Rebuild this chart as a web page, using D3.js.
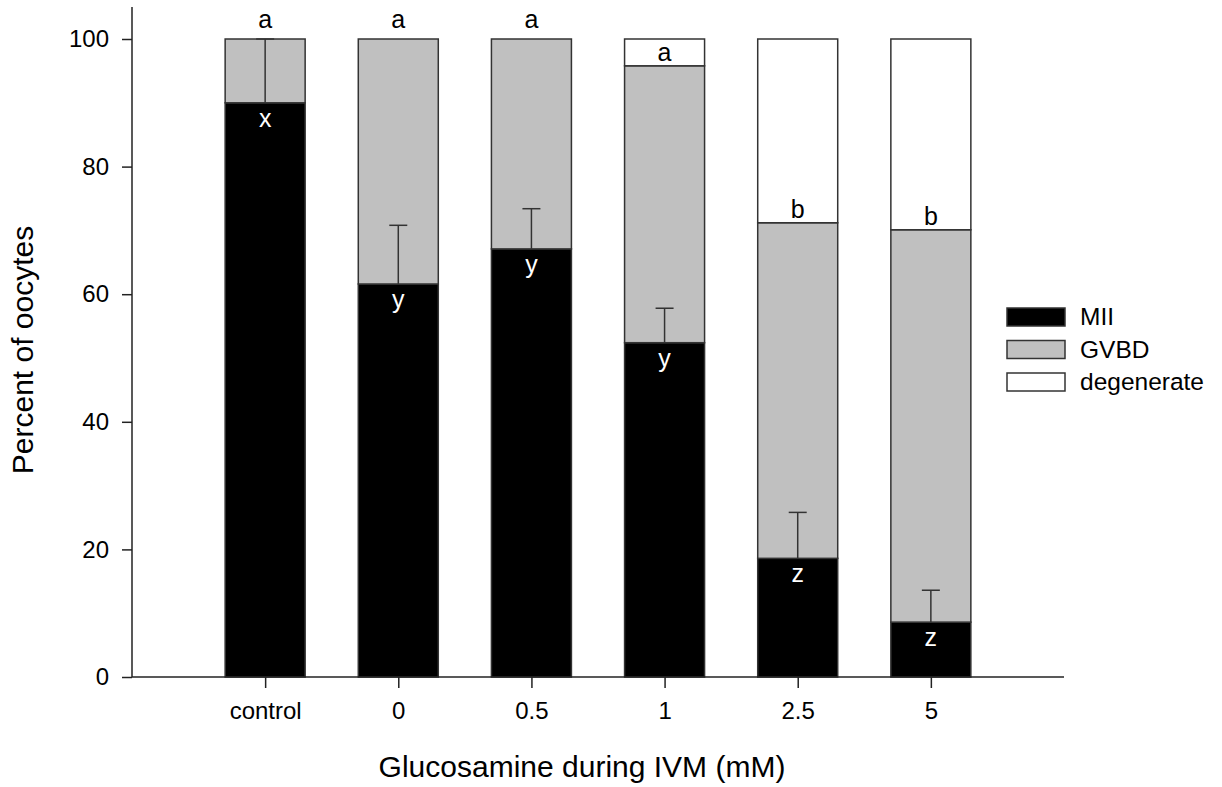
<!DOCTYPE html>
<html>
<head>
<meta charset="utf-8">
<script src="https://cdn.jsdelivr.net/npm/d3@7"></script>
<style>
  html, body { margin: 0; padding: 0; background: #fff; }
  svg { display: block; font-family: "Liberation Sans", Arial, sans-serif; }
</style>
</head>
<body>
<svg id="chart" width="1222" height="787"></svg>
<script>
// Oocyte maturation outcome by glucosamine concentration (percent of oocytes)
const categories = ["control", "0", "0.5", "1", "2.5", "5"];
const miiValues = [90.0, 61.6, 67.1, 52.4, 18.6, 8.6];
const miiErrors = [10.0, 9.2, 6.3, 5.4, 7.2, 5.0];
const gvbdValues = [10.0, 38.4, 32.9, 43.4, 52.6, 61.5];
const degenerateValues = [0.0, 0.0, 0.0, 4.2, 28.8, 29.9];
const upperLetters = ["a", "a", "a", "a", "b", "b"];
const lowerLetters = ["x", "y", "y", "y", "z", "z"];
const seriesNames = ["MII", "GVBD", "degenerate"];
const seriesColors = ["#000000", "#c0c0c0", "#ffffff"];
const yTicks = [0, 20, 40, 60, 80, 100];

const rows = categories.map((c, i) => ({
  category: c,
  MII: miiValues[i],
  GVBD: gvbdValues[i],
  degenerate: degenerateValues[i]
}));

const svg = d3.select("#chart");
const plotLeft = 132, plotRight = 1064, plotTop = 39, plotBottom = 677;

const x = d3.scalePoint().domain(categories).range([plotLeft, plotRight]).padding(1);
const y = d3.scaleLinear().domain([0, 100]).range([plotBottom, plotTop]);
const barW = 80;
const stroke = "#333";

const stacked = d3.stack().keys(seriesNames)(rows);
const color = d3.scaleOrdinal().domain(seriesNames).range(seriesColors);

// stacked bars
const layers = svg.append("g").selectAll("g")
  .data(stacked).join("g")
  .attr("fill", d => color(d.key));

layers.selectAll("rect")
  .data(d => d.filter(s => s[1] - s[0] > 0))
  .join("rect")
  .attr("x", d => x(d.data.category) - barW / 2)
  .attr("width", barW)
  .attr("y", d => y(d[1]))
  .attr("height", d => y(d[0]) - y(d[1]))
  .attr("stroke", stroke)
  .attr("stroke-width", 1.5);

// error bars on MII (upward)
const err = svg.append("g").attr("stroke", stroke).attr("stroke-width", 1.5);
categories.forEach((c, i) => {
  const cx = x(c);
  const y0 = y(miiValues[i]);
  const y1 = y(miiValues[i] + miiErrors[i]);
  err.append("line").attr("x1", cx).attr("x2", cx).attr("y1", y0).attr("y2", y1);
  err.append("line").attr("x1", cx - 9).attr("x2", cx + 9).attr("y1", y1).attr("y2", y1);
});

// significance letters
const letters = svg.append("g").attr("font-size", 25).attr("text-anchor", "middle");
categories.forEach((c, i) => {
  const topOfGvbd = miiValues[i] + gvbdValues[i];
  letters.append("text")
    .attr("x", x(c))
    .attr("y", y(topOfGvbd) - (degenerateValues[i] > 0 ? 5 : 11))
    .attr("fill", "#000")
    .text(upperLetters[i]);
  letters.append("text")
    .attr("x", x(c))
    .attr("y", y(miiValues[i]) + 24)
    .attr("fill", "#fff")
    .text(lowerLetters[i]);
});

// axes
const yAxis = svg.append("g")
  .attr("transform", `translate(${plotLeft},0)`)
  .call(d3.axisLeft(y).tickValues(yTicks).tickSize(10).tickPadding(13));
yAxis.select(".domain").attr("d", `M0,7V${plotBottom}`);

const xAxis = svg.append("g")
  .attr("transform", `translate(0,${plotBottom})`)
  .call(d3.axisBottom(x).tickSize(11).tickPadding(14));
xAxis.select(".domain").attr("d", `M${plotLeft},0H${plotRight}`);

[yAxis, xAxis].forEach(a => {
  a.selectAll("path, line").attr("stroke", "#222").attr("stroke-width", 1.5);
  a.selectAll("text").attr("font-size", 24).attr("fill", "#000")
    .attr("font-family", "'Liberation Sans', Arial, sans-serif");
});

// axis titles
svg.append("text")
  .attr("transform", "translate(33,350) rotate(-90)")
  .attr("text-anchor", "middle")
  .attr("font-size", 30)
  .text("Percent of oocytes");

svg.append("text")
  .attr("x", 582).attr("y", 777)
  .attr("text-anchor", "middle")
  .attr("font-size", 30)
  .text("Glucosamine during IVM (mM)");

// legend
const legend = svg.append("g");
seriesNames.forEach((name, i) => {
  const ly = 308 + i * 32.5;
  legend.append("rect")
    .attr("x", 1007).attr("y", ly)
    .attr("width", 58).attr("height", 18)
    .attr("fill", color(name))
    .attr("stroke", stroke).attr("stroke-width", 1.5);
  legend.append("text")
    .attr("x", 1080).attr("y", ly + 17)
    .attr("font-size", 24.5)
    .text(name);
});
</script>
</body>
</html>
